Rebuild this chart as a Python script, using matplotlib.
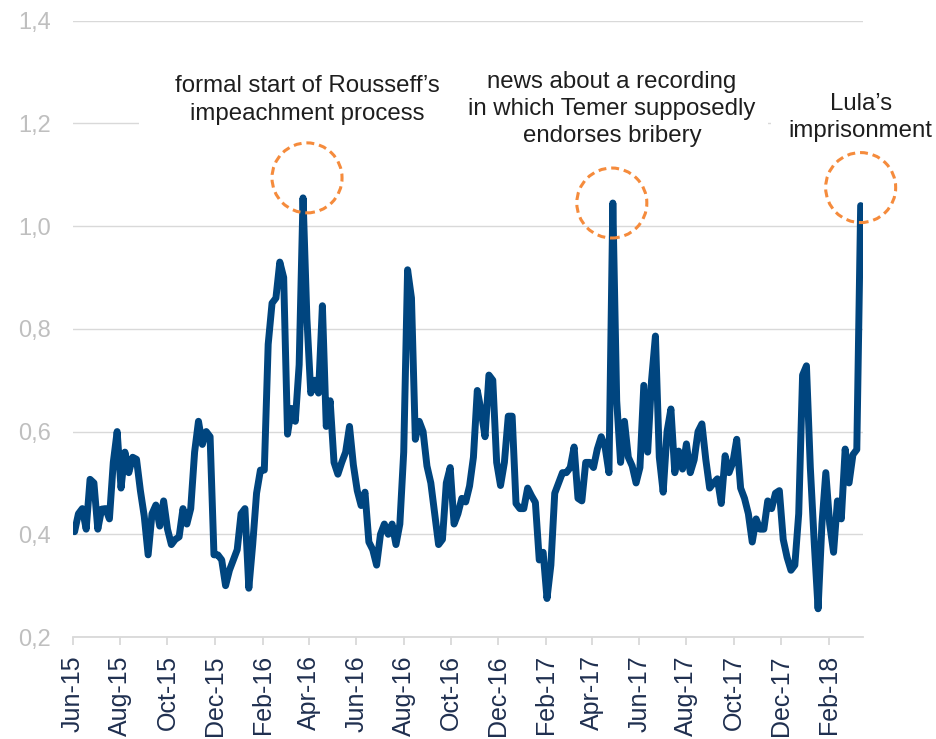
import matplotlib

matplotlib.use("Agg")

import matplotlib.dates as mdates
import matplotlib.pyplot as plt
import numpy as np
import pandas as pd
from matplotlib.patches import Circle
from matplotlib.ticker import FuncFormatter
from matplotlib.transforms import ScaledTranslation

plt.rcParams["font.family"] = ["Liberation Sans", "DejaVu Sans"]

# ------------------------------------------------------------------ data
# index, one value every 5 days from 3 Jun 2015
START_DATE = "2015-06-03"
STEP = "5D"
index_values = [
    0.405, 0.44, 0.45, 0.41, 0.507, 0.50, 0.41, 0.449, 0.45, 0.43,
    0.54, 0.60, 0.49, 0.56, 0.52, 0.55, 0.546, 0.485, 0.435, 0.36,
    0.44, 0.457, 0.416, 0.465, 0.41, 0.38, 0.39, 0.395, 0.45, 0.42,
    0.45, 0.56, 0.62, 0.575, 0.60, 0.59, 0.36, 0.36, 0.35, 0.30,
    0.33, 0.35, 0.37, 0.44, 0.45, 0.295, 0.38, 0.48, 0.525, 0.525,
    0.77, 0.85, 0.86, 0.93, 0.90, 0.595, 0.645, 0.62, 0.73, 1.055,
    0.82, 0.675, 0.70, 0.675, 0.845, 0.61, 0.66, 0.54, 0.517, 0.54,
    0.56, 0.61, 0.535, 0.485, 0.456, 0.482, 0.385, 0.37, 0.34, 0.40,
    0.42, 0.40, 0.42, 0.38, 0.42, 0.56, 0.915, 0.86, 0.585, 0.62,
    0.60, 0.533, 0.50, 0.44, 0.38, 0.39, 0.50, 0.53, 0.42, 0.44,
    0.47, 0.463, 0.494, 0.55, 0.68, 0.64, 0.59, 0.71, 0.70, 0.54,
    0.495, 0.54, 0.63, 0.63, 0.46, 0.45, 0.45, 0.49, 0.475, 0.462,
    0.35, 0.365, 0.275, 0.34, 0.48, 0.50, 0.52, 0.52, 0.53, 0.57,
    0.47, 0.465, 0.54, 0.54, 0.53, 0.566, 0.59, 0.57, 0.52, 1.045,
    0.66, 0.54, 0.62, 0.55, 0.533, 0.50, 0.53, 0.69, 0.56, 0.70,
    0.786, 0.55, 0.482, 0.60, 0.644, 0.52, 0.562, 0.527, 0.576, 0.52,
    0.545, 0.60, 0.615, 0.546, 0.49, 0.50, 0.508, 0.46, 0.553, 0.52,
    0.54, 0.585, 0.49, 0.47, 0.44, 0.385, 0.43, 0.41, 0.41, 0.465,
    0.45, 0.48, 0.485, 0.39, 0.355, 0.33, 0.34, 0.44, 0.71, 0.728,
    0.53, 0.385, 0.255, 0.42, 0.52, 0.42, 0.365, 0.465, 0.43, 0.566,
    0.50, 0.555, 0.565, 1.04,
]

tick_dates = pd.date_range("2015-06-01", "2018-02-01", freq="2MS")
y_ticks = [0.2, 0.4, 0.6, 0.8, 1.0, 1.2, 1.4]

event_labels = [
    "formal start of Rousseff\u2019s\nimpeachment process",
    "news about a recording\nin which Temer supposedly\nendorses bribery",
    "Lula\u2019s\nimprisonment",
]
event_dates = ["2016-03-27", "2017-04-27", "2018-03-14"]

# --------------------------------------------------------------- styling
LINE_COLOR = "#00457F"
CIRCLE_COLOR = "#F58B3C"
GRID_COLOR = "#D9D9D9"
YLABEL_COLOR = "#BFBFBF"
XLABEL_COLOR = "#1F2F4F"
TEXT_COLOR = "#1E1E1E"

# (circle dx, circle dy, text dx, text dy, box pad) in pixels / fontsize units
event_layout = [
    (4, 20, 4, 98, 1.5),
    (-1, 0, -1, 94, 0.53),
    (0, 18, 0, 88, 0.72),
]

dates = pd.date_range(START_DATE, periods=len(index_values), freq=STEP)
values = np.array(index_values)

fig = plt.figure(figsize=(9.36, 7.39), dpi=100)
ax = fig.add_axes([0.078, 0.138, 0.844, 0.834])

ax.plot(dates, values, color=LINE_COLOR, lw=5.0,
        solid_joinstyle="round", solid_capstyle="round", zorder=4)

ax.set_ylim(0.2, 1.4)
ax.set_xlim(pd.Timestamp("2015-06-01"), pd.Timestamp("2018-03-17"))

ax.set_yticks(y_ticks)
ax.yaxis.set_major_formatter(FuncFormatter(lambda v, _: f"{v:.1f}".replace(".", ",")))
ax.set_xticks(tick_dates)
ax.xaxis.set_major_formatter(mdates.DateFormatter("%b-%y"))

for s in ("left", "right", "top"):
    ax.spines[s].set_visible(False)
ax.spines["bottom"].set_color(GRID_COLOR)
ax.spines["bottom"].set_linewidth(1.3)

ax.grid(axis="y", color=GRID_COLOR, lw=1.0)
ax.set_axisbelow(True)
ax.tick_params(axis="y", length=0, pad=16, labelsize=17, labelcolor=YLABEL_COLOR)
ax.tick_params(axis="x", length=6, width=1.3, color=GRID_COLOR, pad=7,
               labelsize=18, labelcolor=XLABEL_COLOR, labelrotation=90)

# --- annotations: dashed circle + label over each peak ------------------
for label, d, (cdx, cdy, tdx, tdy, pad) in zip(event_labels, event_dates, event_layout):
    i0 = int(np.argmin(np.abs(dates - pd.Timestamp(d))))
    lo, hi = max(i0 - 3, 0), min(i0 + 4, len(values))
    ip = lo + int(np.argmax(values[lo:hi]))
    px, py = mdates.date2num(dates[ip]), values[ip]

    trans = fig.dpi_scale_trans + ScaledTranslation(px, py, ax.transData)
    circ = Circle((cdx / 100, cdy / 100), radius=0.35, transform=trans,
                  fill=False, edgecolor=CIRCLE_COLOR, lw=2.2,
                  linestyle=(0, (2.6, 1.6)), clip_on=False, zorder=6)
    ax.add_patch(circ)

    ax.annotate(label, xy=(dates[ip], py), xytext=(tdx, tdy),
                textcoords="offset pixels", ha="center", va="center",
                multialignment="center", fontsize=17.3, color=TEXT_COLOR,
                linespacing=1.32, annotation_clip=False, zorder=5,
                bbox=dict(boxstyle=f"square,pad={pad}", fc="white", ec="none"))

fig.savefig("out.png", dpi=100)
